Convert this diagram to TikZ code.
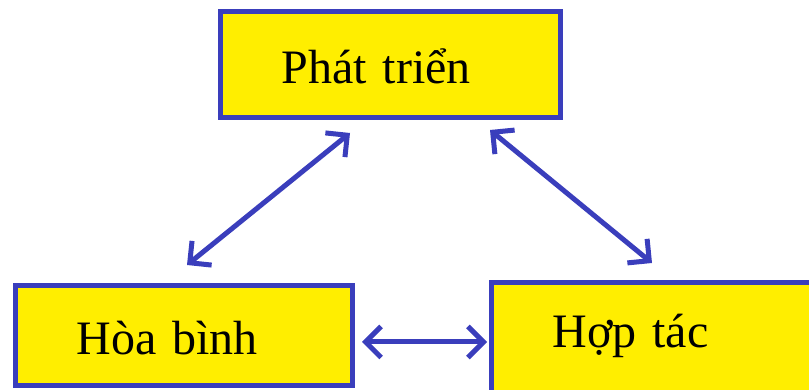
\documentclass[tikz,border=0pt]{standalone}
\usepackage{fontspec}
\setmainfont{Liberation Serif}
\usetikzlibrary{arrows.meta}
\definecolor{khungxanh}{RGB}{58,62,188}
\definecolor{nenvang}{RGB}{255,238,0}
\tikzset{>={Straight Barb[angle=90:22pt]}}
\tikzset{khung/.style={draw=khungxanh, line width=5pt, fill=nenvang, inner xsep=61pt, align=left,
  text height=38pt, text depth=0pt, font=\fontsize{48}{58}\selectfont}}
\tikzset{muiten/.style={<->, draw=khungxanh, line width=5pt}}

\begin{document}
\begin{tikzpicture}[x=1pt,y=1pt]
\clip (0,0) rectangle (809,390);
\node[khung, text width=218pt, minimum height=106pt] (phattrien) at (390.5,325.5) {Phát triển};
\node[khung, text width=215pt, minimum height=100pt] (hoabinh) at (184,54.5) {Hòa bình};
\node[khung, text width=236.5pt, minimum height=137.5pt, text depth=44.5pt] (hoptac) at (670.75,38.75) {Hợp tác};
\coordinate (hb-tren) at (187,125);
\coordinate (pt-trai) at (350,257);
\coordinate (pt-phai) at (490,260);
\coordinate (ht-tren) at (652,127);
\coordinate (hb-phai) at (362,48);
\coordinate (ht-trai) at (487,48);
\draw[muiten] (hb-tren) -- (pt-trai);
\draw[muiten] (pt-phai) -- (ht-tren);
\draw[muiten] (hb-phai) -- (ht-trai);
\end{tikzpicture}
\end{document}
